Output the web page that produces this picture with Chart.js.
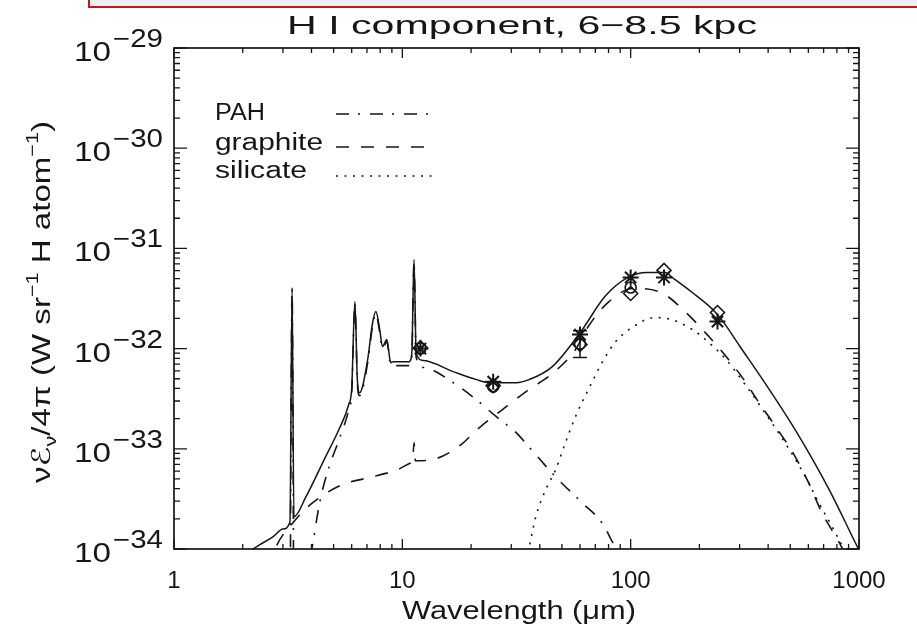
<!DOCTYPE html>
<html>
<head>
<meta charset="utf-8">
<title>H I component, 6-8.5 kpc</title>
<script src="https://cdn.jsdelivr.net/npm/chart.js@4.4.1/dist/chart.umd.min.js"></script>
<style>
  html, body { margin: 0; padding: 0; background: #fff; }
  #wrap { position: relative; width: 917px; height: 629px; overflow: hidden; }
  #box { position: absolute; left: 88px; top: -4px; width: 1000px; height: 8px; border: 2px solid #cc1616; background: #f0f0f0; }
  canvas { position: absolute; left: 0; top: 0; }
</style>
</head>
<body>
<div id="wrap">
  <canvas id="sed" width="917" height="629"></canvas>
  <div id="box"></div>
</div>
<script>
// H I component, 6-8.5 kpc — model emission (PAH + graphite + silicate) vs. IRAS/DIRBE bands.
// Values; wavelength in micron, emission in W sr^-1 H^-1.

const totalWl = [2.0, 2.22, 2.37, 2.71, 3.0, 3.22, 3.29, 3.35, 3.78, 4.61, 5.27, 5.82, 6.0, 6.2, 6.35, 6.5, 7.05, 7.4, 7.66, 7.95, 8.19, 8.55, 8.9, 9.1, 10.7, 11.0, 11.25, 11.5, 12.4, 16.7, 21.1, 24.1, 31.5, 35.9, 45.4, 60.2, 77.1, 97.3, 118, 141, 156, 186, 229, 254, 301, 371, 525, 741, 995, 1050];
const totalVal = [8.3e-35, 1.0e-34, 1.10e-34, 1.32e-34, 1.58e-34, 1.86e-34, 4.07e-32, 2.09e-34, 3.31e-34, 8.32e-34, 1.55e-33, 2.75e-33, 3.98e-33, 2.95e-32, 5.01e-33, 3.63e-33, 7.76e-33, 1.78e-32, 2.34e-32, 1.58e-32, 1.05e-32, 1.23e-32, 7.24e-33, 7.41e-33, 7.41e-33, 8.91e-33, 7.76e-32, 8.91e-33, 7.59e-33, 5.89e-33, 4.90e-33, 4.57e-33, 4.57e-33, 4.90e-33, 6.61e-33, 1.45e-32, 3.31e-32, 5.13e-32, 5.75e-32, 5.75e-32, 4.90e-32, 3.63e-32, 2.45e-32, 1.86e-32, 1.05e-32, 5.25e-33, 1.55e-33, 3.89e-34, 1.0e-34, 7.94e-35];

const pahWl = [3.22, 3.29, 3.36, 3.98, 4.37, 4.78, 5.28, 5.84, 6.0, 6.2, 6.35, 6.5, 7.05, 7.4, 7.66, 7.95, 8.19, 8.55, 8.9, 9.1, 10.7, 11.0, 11.25, 11.5, 12.5, 16.7, 21.1, 25.8, 31.5, 35.8, 46.9, 61.4, 74.9, 83.6, 89.6];
const pahVal = [1e-35, 3.98e-32, 1e-35, 8.91e-35, 3.09e-34, 6.61e-34, 1.23e-33, 2.51e-33, 3.55e-33, 2.82e-32, 4.68e-33, 3.39e-33, 7.24e-33, 1.66e-32, 2.24e-32, 1.48e-32, 1.00e-32, 1.17e-32, 6.76e-33, 6.76e-33, 6.76e-33, 8.13e-33, 7.41e-32, 8.13e-33, 6.46e-33, 4.57e-33, 3.09e-33, 2.09e-33, 1.45e-33, 1.05e-33, 5.25e-34, 2.88e-34, 1.82e-34, 1.15e-34, 8.71e-35];

const graphiteWl = [2.6, 2.77, 3.34, 4.04, 5.44, 7.05, 9.5, 10.9, 11.1, 11.25, 11.4, 13.4, 17.6, 21.7, 28.5, 35.8, 45.9, 57.3, 65.2, 79.5, 103, 136, 173, 220, 262, 313, 370, 441, 526, 602, 689, 821, 860];
const graphiteVal = [6.31e-35, 1.0e-34, 1.86e-34, 2.88e-34, 4.37e-34, 5.13e-34, 6.17e-34, 7.24e-34, 7.59e-34, 1.15e-33, 7.59e-34, 7.76e-34, 1.05e-33, 1.62e-33, 2.63e-33, 3.89e-33, 5.75e-33, 9.77e-33, 1.66e-32, 2.88e-32, 3.98e-32, 3.63e-32, 2.34e-32, 1.32e-32, 8.32e-33, 4.90e-33, 2.75e-33, 1.55e-33, 8.32e-34, 4.57e-34, 2.29e-34, 1.15e-34, 9.33e-35];

const silicateWl = [34, 35.8, 38.4, 42.4, 46.9, 51.8, 57.3, 65.2, 74.9, 85.3, 103, 127, 151, 186, 220, 262, 313, 398, 474, 583, 667, 764, 848, 900];
const silicateVal = [6.31e-35, 1.0e-34, 2.09e-34, 3.89e-34, 6.17e-34, 1.15e-33, 2.09e-33, 3.89e-33, 7.24e-33, 1.15e-32, 1.66e-32, 2.04e-32, 1.95e-32, 1.55e-32, 1.15e-32, 7.76e-33, 4.57e-33, 2.09e-33, 1.15e-33, 5.25e-34, 2.88e-34, 1.66e-34, 1.05e-34, 7.94e-35];

// photometric points
const starWl = [12, 25, 60, 100, 140, 240];
const starVal = [1.0e-32, 4.68e-33, 1.38e-32, 5.13e-32, 5.13e-32, 1.86e-32];
const diamondWl = [12, 25, 60, 100, 140, 240];
const diamondVal = [1.02e-32, 4.27e-33, 1.10e-32, 3.55e-32, 6.03e-32, 2.29e-32];
const circleWl = [12, 25, 60, 100];
const circleVal = [1.0e-32, 4.17e-33, 1.12e-32, 4.07e-32];
const errWl = [60];
const errLo = [8.13e-33];
const errHi = [1.51e-32];

// axis labels
const xTickVals = [1, 10, 100, 1000];
const xTickLabels = ['1', '10', '100', '1000'];
const yTickVals = [1e-29, 1e-30, 1e-31, 1e-32, 1e-33, 1e-34];
const yTickExps = ['\u221229', '\u221230', '\u221231', '\u221232', '\u221233', '\u221234'];

const FONT = '"Liberation Sans", "DejaVu Sans", sans-serif';
const INK = '#161616';

const pts = (xs, ys) => xs.map((x, i) => ({ x, y: ys[i] }));

// text squeezed/stretched to the width it has in the scan
function fitText(ctx, str, x, y, size, width, align = 'left') {
  ctx.font = `${size}px ${FONT}`;
  const w = ctx.measureText(str).width;
  const s = width ? width / w : 1;
  ctx.save();
  ctx.translate(x, y);
  ctx.scale(s, 1);
  ctx.textAlign = align;
  ctx.fillText(str, 0, 0);
  ctx.restore();
}

const frame = {
  id: 'frame',
  afterDatasetsDraw(chart) {
    const { ctx, scales: { x, y } } = chart;
    // error bars
    ctx.save();
    ctx.strokeStyle = INK;
    ctx.lineWidth = 1.5;
    errWl.forEach((w, i) => {
      const px = x.getPixelForValue(w);
      const lo = y.getPixelForValue(errLo[i]);
      const hi = y.getPixelForValue(errHi[i]);
      ctx.beginPath();
      ctx.moveTo(px, lo); ctx.lineTo(px, hi);
      ctx.moveTo(px - 7, lo); ctx.lineTo(px + 7, lo);
      ctx.moveTo(px - 7, hi); ctx.lineTo(px + 7, hi);
      ctx.stroke();
    });
    ctx.restore();
  },
  afterDraw(chart) {
    const { ctx, chartArea: a, scales: { x, y } } = chart;
    ctx.save();
    ctx.strokeStyle = INK;
    ctx.lineWidth = 1.7;
    ctx.strokeRect(a.left, a.top, a.right - a.left, a.bottom - a.top);

    // inward ticks on all four sides
    ctx.lineWidth = 1.3;
    ctx.beginPath();
    for (let d = 1; d <= 1000; d *= 10) {
      for (let m = 1; m < 10; m++) {
        const v = d * m;
        if (v > 1000) break;
        const px = x.getPixelForValue(v);
        const len = m === 1 ? 10 : 5;
        ctx.moveTo(px, a.bottom); ctx.lineTo(px, a.bottom - len);
        ctx.moveTo(px, a.top); ctx.lineTo(px, a.top + len);
      }
    }
    for (let e = -34; e <= -29; e++) {
      for (let m = 1; m < 10; m++) {
        const v = m * Math.pow(10, e);
        if (v > 1.0001e-29) break;
        const py = y.getPixelForValue(v);
        const len = m === 1 ? 13 : 6;
        ctx.moveTo(a.left, py); ctx.lineTo(a.left + len, py);
        ctx.moveTo(a.right, py); ctx.lineTo(a.right - len, py);
      }
    }
    ctx.stroke();

    ctx.fillStyle = INK;
    ctx.textBaseline = 'alphabetic';

    // x tick labels
    xTickVals.forEach((v, i) => fitText(ctx, xTickLabels[i], x.getPixelForValue(v), 588, 24, 0, 'center'));
    // y tick labels, 10 with raised exponent
    yTickVals.forEach((v, i) => {
      const py = y.getPixelForValue(v);
      fitText(ctx, '10', 111, py + 13, 27, 37, 'right');
      fitText(ctx, yTickExps[i], 113, py - 1, 25, 50, 'left');
    });

    // title and axis titles
    fitText(ctx, 'H I component, 6\u22128.5 kpc', 522, 34, 26, 470, 'center');
    fitText(ctx, 'Wavelength (\u03bcm)', 519, 619, 26, 234, 'center');

    // rotated y title with sub/superscripts
    const parts = [
      ['\u03bd', 26, 0], ['\u2130', 26, 0], ['\u03bd', 17, 6], ['/4\u03c0 (W sr', 26, 0],
      ['\u22121', 17, -12], [' H atom', 26, 0], ['\u22121', 17, -12], [')', 26, 0],
    ];
    let total = 0;
    parts.forEach(p => { ctx.font = `${p[1]}px ${FONT}`; total += ctx.measureText(p[0]).width; });
    const span = 362;
    ctx.save();
    ctx.translate(50, 302);
    ctx.rotate(-Math.PI / 2);
    ctx.scale(span / total, 1);
    let cx = -total / 2;
    ctx.textAlign = 'left';
    parts.forEach(p => {
      ctx.font = `${p[1]}px ${FONT}`;
      ctx.fillText(p[0], cx, p[2]);
      cx += ctx.measureText(p[0]).width;
    });
    ctx.restore();

    // legend
    fitText(ctx, 'PAH', 215, 120, 23, 50);
    fitText(ctx, 'graphite', 215, 150, 23, 108);
    fitText(ctx, 'silicate', 215, 178, 23, 92);
    const samples = [[114, [13, 9, 2, 10]], [147, [13, 12]], [176, [2, 6.5]]];
    ctx.lineWidth = 1.5;
    samples.forEach(([yy, dash]) => {
      ctx.setLineDash(dash);
      ctx.beginPath();
      ctx.moveTo(336, yy); ctx.lineTo(432, yy);
      ctx.stroke();
    });
    ctx.restore();
  }
};

const line = (wl, val, dash, width) => ({
  data: pts(wl, val), showLine: true, pointRadius: 0, borderColor: INK,
  borderWidth: width, borderDash: dash, cubicInterpolationMode: 'monotone', fill: false,
});
const marks = (wl, val, style, r, bw) => ({
  data: pts(wl, val), showLine: false, pointStyle: style, pointRadius: r,
  borderColor: INK, backgroundColor: 'rgba(0,0,0,0)', pointBorderWidth: bw,
});

new Chart(document.getElementById('sed'), {
  type: 'scatter',
  data: {
    datasets: [
      marks(starWl, starVal, 'star', 8, 2),
      marks(diamondWl, diamondVal, 'rectRot', 7, 1.6),
      marks(circleWl, circleVal, 'circle', 5.5, 1.6),
      line(totalWl, totalVal, [], 1.5),
      line(pahWl, pahVal, [13, 9, 2, 10], 1.6),
      line(graphiteWl, graphiteVal, [13, 12], 1.6),
      line(silicateWl, silicateVal, [2, 6.5], 1.6),
    ],
  },
  options: {
    responsive: false,
    animation: false,
    layout: { padding: { left: 174, right: 58, top: 48, bottom: 80 } },
    plugins: { legend: { display: false }, tooltip: { enabled: false } },
    scales: {
      x: { type: 'logarithmic', min: 1, max: 1000, display: false },
      y: { type: 'logarithmic', min: 1e-34, max: 1e-29, display: false },
    },
  },
  plugins: [frame],
});
</script>
</body>
</html>
